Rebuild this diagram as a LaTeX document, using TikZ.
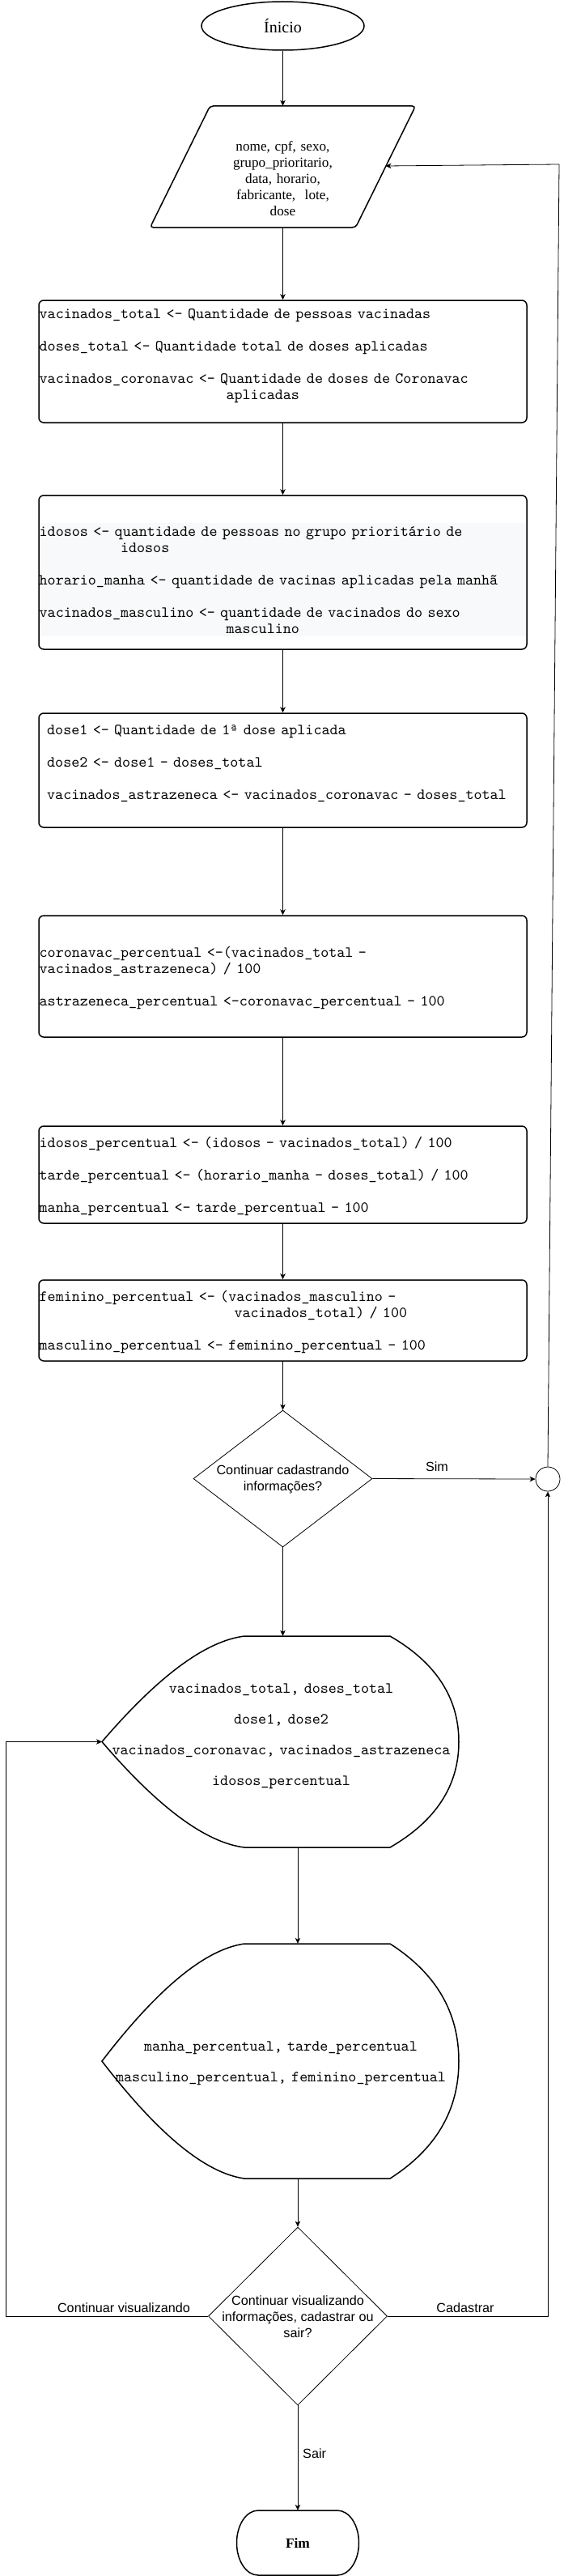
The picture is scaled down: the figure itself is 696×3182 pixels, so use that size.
\documentclass[tikz,border=0pt]{standalone}
\usepackage{fontspec}
\setmainfont{Liberation Serif}
\setsansfont{Liberation Sans}
\newfontfamily\codefont{lmmono10-regular.otf}
\usetikzlibrary{shapes.geometric,arrows.meta,calc}
\definecolor{bandgray}{HTML}{F8F9FA}
\begin{document}
\begin{tikzpicture}[x=1pt,y=-1pt,
  conn/.style={line width=0.8pt,-{Stealth[length=7pt,width=6.5pt,inset=2pt]}},
  shapeline/.style={line width=1.5pt},
  procbox/.style={draw,line width=1.5pt,rounded corners=6pt,minimum width=603pt,inner sep=0pt},
  codetext/.style={font=\codefont\fontsize{19.12}{20}\selectfont,text width=620pt,align=left,inner sep=0pt,anchor=base west},
  disptext/.style={font=\codefont\fontsize{19.12}{38}\selectfont,text width=440pt,align=center,anchor=base,inner sep=0pt},
  lbl/.style={font=\sffamily\fontsize{16.2}{20}\selectfont,inner sep=0pt,align=center},
  decbox/.style={draw,diamond,line width=0.8pt,inner sep=0pt,minimum width=221pt},
  ghost/.style={inner sep=0pt}
]
\useasboundingbox (0,0) rectangle (696,3182);
\fill[white] (0,0) rectangle (696,3182);

% start
\node[draw,ellipse,line width=1.5pt,minimum width=201pt,minimum height=60pt,inner sep=0pt,
      font=\fontsize{20}{24}\selectfont] (inicio) at (349.5,32) {Ínicio};

% input parallelogram
\node[ghost,minimum width=328pt,minimum height=150pt] (para) at (349.5,206) {};
\draw[shapeline,rounded corners=4pt] (185.5,281) -- (259.5,131) -- (513.5,131) -- (439.5,281) -- cycle;
\node[font=\fontsize{17.2}{20}\selectfont,text width=300pt,align=center,anchor=base,inner sep=0pt]
  (paratext) at (349.5,186) {nome, cpf, sexo,\\ grupo\_prioritario,\\ data, horario,\\ fabricante,~ lote,\\ dose};

% box 1
\node[procbox,minimum height=151pt] (b1) at (349.5,446.5) {};
\node[codetext] (t1) at (48.5,393) {vacinados\_total <- Quantidade de pessoas vacinadas\\[20pt]
doses\_total <- Quantidade total de doses aplicadas\\[20pt]
vacinados\_coronavac <- Quantidade de doses de Coronavac\\
\hspace*{12.075em}aplicadas};

% box 2
\node[procbox,minimum height=190pt] (b2) at (349.5,707) {};
\fill[bandgray] (49.5,646) rectangle (650,786);
\node[codetext] (t2) at (48.5,662) {idosos <- quantidade de pessoas no grupo prioritário de\\
\hspace*{5.25em}idosos\\[20pt]
horario\_manha <- quantidade de vacinas aplicadas pela manhã\\[20pt]
vacinados\_masculino <- quantidade de vacinados do sexo\\
\hspace*{12.075em}masculino};

% box 3
\node[procbox,minimum height=141pt] (b3) at (349.5,951.5) {};
\node[codetext] (t3) at (58,907) {dose1 <- Quantidade de 1ª dose aplicada\\[20pt]
dose2 <- dose1 - doses\_total\\[20pt]
vacinados\_astrazeneca <- vacinados\_coronavac - doses\_total};

% box 4
\node[procbox,minimum height=150pt] (b4) at (349.5,1206) {};
\node[codetext] (t4) at (48.5,1182) {coronavac\_percentual <-(vacinados\_total -\\
vacinados\_astrazeneca) / 100\\[20pt]
astrazeneca\_percentual <-coronavac\_percentual - 100};

% box 5
\node[procbox,minimum height=120pt] (b5) at (349.5,1451) {};
\node[codetext] (t5) at (48.5,1417) {idosos\_percentual <- (idosos - vacinados\_total) / 100\\[20pt]
tarde\_percentual <- (horario\_manha - doses\_total) / 100\\[20pt]
manha\_percentual <- tarde\_percentual - 100};

% box 6
\node[procbox,minimum height=100pt] (b6) at (349.5,1631) {};
\node[codetext] (t6) at (48.5,1607) {feminino\_percentual <- (vacinados\_masculino -\\
\hspace*{12.6em}vacinados\_total) / 100\\[20pt]
masculino\_percentual <- feminino\_percentual - 100};

% decision 1
\node[decbox,minimum height=169pt] (d1) at (349.5,1826.5) {};
\node[lbl] (d1t) at (349.5,1827) {Continuar cadastrando\\informações?};
\node[draw,circle,line width=0.8pt,minimum size=30pt,inner sep=0pt] (jn) at (677,1827) {};
\node[lbl] (sim) at (540,1812) {Sim};

% display 1
\node[ghost,minimum width=441pt,minimum height=261pt] (disp1) at (346.5,2151.5) {};
\draw[shapeline] (126,2151.5) .. controls (195.3,2070.7) and (254,2027) .. (302,2021) -- (482,2021)
  .. controls (538.7,2053.7) and (567,2097.3) .. (567,2151.5)
  .. controls (567,2205.7) and (538.7,2249.3) .. (482,2282) -- (302,2282)
  .. controls (254,2276) and (195.3,2232.3) .. (126,2151.5) -- cycle;
\node[disptext] (disp1t) at (347.5,2091) {vacinados\_total, doses\_total\\dose1, dose2\\vacinados\_coronavac, vacinados\_astrazeneca\\idosos\_percentual};

% display 2
\node[ghost,minimum width=441pt,minimum height=290pt] (disp2) at (346.5,2546) {};
\draw[shapeline] (126,2546) .. controls (195.3,2455.7) and (254,2407.7) .. (302,2401) -- (482,2401)
  .. controls (538.7,2437.3) and (567,2485.2) .. (567,2546)
  .. controls (567,2606.8) and (538.7,2654.7) .. (482,2691) -- (302,2691)
  .. controls (254,2684.3) and (195.3,2636.3) .. (126,2546) -- cycle;
\node[disptext] (disp2t) at (347,2533) {manha\_percentual, tarde\_percentual\\masculino\_percentual, feminino\_percentual};

% decision 2
\node[decbox,minimum height=220pt] (d2) at (368,2861) {};
\node[lbl] (d2t) at (368,2862) {Continuar visualizando\\informações, cadastrar ou\\sair?};
\node[lbl] (cv) at (153,2851) {Continuar visualizando};
\node[lbl] (cad) at (575,2851) {Cadastrar};
\node[lbl,anchor=west] (sair) at (374,3031) {Sair};

% end
\node[ghost,minimum width=151pt,minimum height=80pt,font=\bfseries\fontsize{17.4}{20}\selectfont] (fim) at (368,3141) {Fim};
\draw[shapeline] (319,3101) -- (417,3101) arc[start angle=-90,end angle=90,x radius=26.5,y radius=40]
  -- (319,3181) arc[start angle=90,end angle=270,x radius=26.5,y radius=40] -- cycle;

% coordinates
\coordinate (topR) at (691,203);
\coordinate (paraR) at (476.5,205);
\coordinate (disp1out) at (368,2282);
\coordinate (disp2out) at (368,2691);
\coordinate (disp1in) at (126,2151.5);
\coordinate (L1) at (7.6,2861);
\coordinate (L2) at (7.6,2151.5);
\coordinate (R1) at (677,2861);

% connectors
\draw[conn] (inicio.south) -- (para.north);
\draw[conn] (para.south) -- (b1.north);
\draw[conn] (b1.south) -- (b2.north);
\draw[conn] (b2.south) -- (b3.north);
\draw[conn] (b3.south) -- (b4.north);
\draw[conn] (b4.south) -- (b5.north);
\draw[conn] (b5.south) -- (b6.north);
\draw[conn] (b6.south) -- (d1.north);
\draw[conn] (d1.south) -- (d1.south |- disp1.north);
\draw[conn] (d1.east) -- (jn.west);
\draw[conn] (jn.north) -- (topR) -- (paraR);
\draw[conn] (disp1out) -- (disp1out |- disp2.north);
\draw[conn] (disp2out) -- (d2.north);
\draw[conn] (d2.south) -- (fim.north);
\draw[conn] (d2.west) -- (L1) -- (L2) -- (disp1in);
\draw[conn] (d2.east) -- (R1) -- (jn.south);
\end{tikzpicture}
\end{document}
